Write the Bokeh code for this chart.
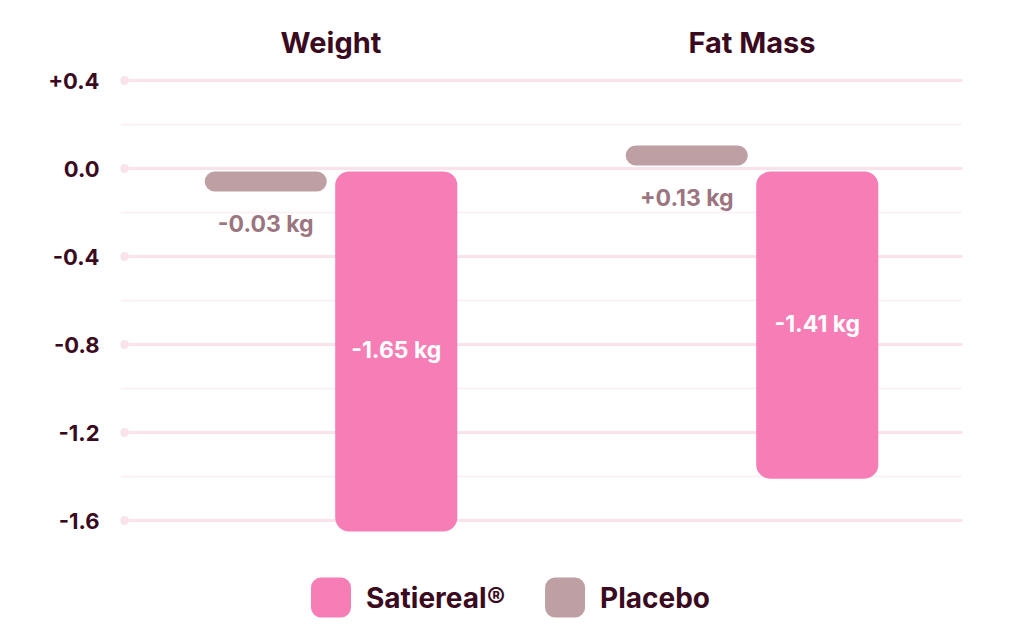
from bokeh.plotting import figure
from bokeh.models import Range1d, FixedTicker
from bokeh.core.properties import value
from bokeh.embed import file_html
from bokeh.resources import INLINE

# ---- data ----
groups = ["Weight", "Fat Mass"]
satiereal = [-1.65, -1.41]
placebo = [-0.03, 0.13]
satiereal_labels = ["-1.65 kg", "-1.41 kg"]
placebo_labels = ["-0.03 kg", "+0.13 kg"]
y_ticks = [0.4, 0.0, -0.4, -0.8, -1.2, -1.6]
y_tick_labels = ["+0.4", "0.0", "-0.4", "-0.8", "-1.2", "-1.6"]
y_minor = [0.2, -0.2, -0.6, -1.0, -1.4]
series_names = ["Satiereal\u00ae", "Placebo"]

# ---- style ----
PINK = "#F67DB5"
MAUVE = "#BE9FA4"
MAUVE_TXT = "#9B7580"
DARK = "#3A0B1F"
GRID = "#F7E3E9"
GRID_MINOR = "#FBF1F4"
FONT = "Inter"

W, H = 1008, 624
PX = 220.0  # px per y unit
ZERO = 168.0  # pixel row of zero
y0 = ZERO / PX
y1 = (ZERO - H) / PX
gap = 3.0 / PX
pill_h = 20.0 / PX  # placebo shown as a fixed-height pill on the side of its sign
bar_w = 0.29
off = 0.155

p = figure(width=W, height=H, output_backend="svg", toolbar_location=None,
           x_range=Range1d(-0.5, 1.5), y_range=Range1d(y1, y0),
           min_border_left=120, min_border_right=46, min_border_top=0,
           min_border_bottom=0)
p.outline_line_color = None
p.xaxis.visible = False
p.xgrid.visible = False

yax = p.yaxis[0]
yax.ticker = FixedTicker(ticks=y_ticks, minor_ticks=y_minor)
yax.major_label_overrides = {t: l for t, l in zip(y_ticks, y_tick_labels)}
yax.axis_line_color = None
yax.major_tick_line_color = None
yax.minor_tick_line_color = None
yax.major_tick_in = 0
yax.major_tick_out = 0
yax.major_label_standoff = 17
yax.major_label_text_font = FONT
yax.major_label_text_font_size = "22px"
yax.major_label_text_font_style = "bold"
yax.major_label_text_color = DARK

p.ygrid.grid_line_color = GRID
p.ygrid.grid_line_width = 3
p.ygrid.minor_grid_line_color = GRID_MINOR
p.ygrid.minor_grid_line_width = 2

# dots at the left end of major grid lines
p.scatter(x=[-0.5 + 4.0 / 421] * len(y_ticks), y=y_ticks, size=9,
          color=GRID, line_color=None)

xs = list(range(len(groups)))

# satiereal bars
s_top = [(-gap if v < 0 else v) for v in satiereal]
s_bot = [(v if v < 0 else gap) for v in satiereal]
p.vbar(x=[x + off for x in xs], width=bar_w, top=s_top, bottom=s_bot,
       fill_color=PINK, line_color=None, border_radius=14)

# placebo pills
p_top, p_bot = [], []
for v in placebo:
    if v < 0:
        p_top.append(-gap)
        p_bot.append(-gap - pill_h)
    else:
        p_top.append(gap + pill_h)
        p_bot.append(gap)
p.vbar(x=[x - off for x in xs], width=bar_w, top=p_top, bottom=p_bot,
       fill_color=MAUVE, line_color=None, border_radius=10)

# value labels
p.text(x=[x + off for x in xs], y=[v / 2 for v in satiereal],
       text=satiereal_labels, text_align="center", text_baseline="middle",
       text_font=value(FONT), text_font_size="23px", text_font_style="bold",
       text_color="white")
p.text(x=[x - off for x in xs], y=[b - 32.0 / PX for b in p_bot],
       text=placebo_labels, text_align="center", text_baseline="middle",
       text_font=value(FONT), text_font_size="23px", text_font_style="bold",
       text_color=MAUVE_TXT)

# group titles
p.text(x=xs, y=[(ZERO - 42) / PX] * len(xs), text=groups,
       text_align="center", text_baseline="middle",
       text_font=value(FONT), text_font_size="29px", text_font_style="bold",
       text_color=DARK)

# legend
leg_y = -(597 - ZERO) / PX
leg_x = [0.0, 0.556]
p.rect(x=leg_x, y=[leg_y] * 2, width=40, height=40, width_units="screen",
       height_units="screen", fill_color=[PINK, MAUVE], line_color=None,
       border_radius=10)
p.text(x=leg_x, y=[leg_y] * 2, x_offset=35, text=series_names,
       text_align="left", text_baseline="middle",
       text_font=value(FONT), text_font_size="28px", text_font_style="bold",
       text_color=DARK)

open("out.html", "w").write(file_html(p, INLINE))
